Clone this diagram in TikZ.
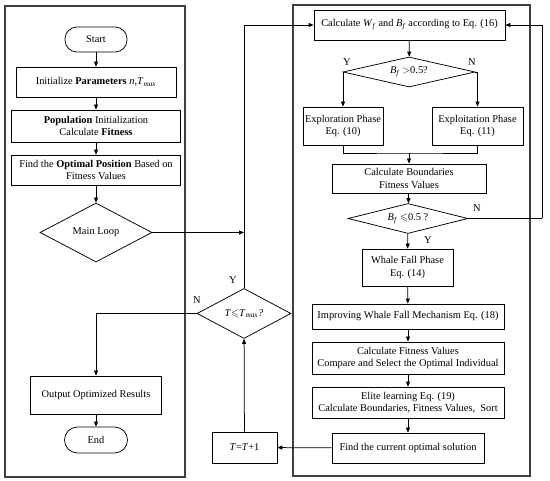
\documentclass[tikz,border=0pt]{standalone}
\usepackage{amssymb}
\usepackage{fontspec}
\setmainfont{Liberation Serif}
\usetikzlibrary{shapes.geometric,arrows.meta}
\begin{document}
\begin{tikzpicture}[x=1pt,y=-1pt,
  every node/.style={font=\fontsize{10.4}{12.2}\selectfont},
  box/.style={draw, line width=0.75pt, align=center, inner sep=0pt},
  term/.style={box, rounded corners=12pt},
  dia/.style={draw, line width=0.75pt, diamond, aspect=3, inner sep=0pt, align=center},
  panel/.style={draw=black!75, line width=1.3pt},
  arr/.style={line width=0.75pt, -{Triangle[length=5pt,width=4pt]}},
  ln/.style={line width=0.75pt},
  lbl/.style={inner sep=0pt}]
\useasboundingbox (0,0) rectangle (550,481);
\draw[panel] (5,6) rectangle (185,477);
\draw[panel] (293,5) rectangle (530,476);
% left column
\node[term, minimum width=62pt, minimum height=25pt] (start) at (96,39.5) {Start};
\node[box, minimum width=160pt, minimum height=30pt] (init) at (96,82) {Initialize \textbf{Parameters} \textit{n},\textit{T}\textsubscript{\textit{max}}};
\node[box, minimum width=169pt, minimum height=32pt] (pop) at (96,126) {\textbf{Population} Initialization\\Calculate \textbf{Fitness}};
\node[box, minimum width=169pt, minimum height=30pt] (opt) at (96,170) {Find the \textbf{Optimal Position} Based on\\Fitness Values};
\node[dia, minimum width=112pt, minimum height=59pt] (loop) at (96,232.5) {Main Loop};
\node[box, minimum width=131pt, minimum height=38pt] (out) at (96,395) {Output Optimized Results};
\node[term, minimum width=63pt, minimum height=26pt, rounded corners=13pt] (end) at (96,440) {End};
% middle
\node[dia, minimum width=94pt, minimum height=50pt] (tdia) at (244,313.5) {\textit{T}$\leqslant$\textit{T}\textsubscript{\textit{max}}\textit{?}};
\node[box, minimum width=65pt, minimum height=31pt] (tplus) at (244.5,447.5) {\textit{T}=\textit{T}+1};
% right column
\node[box, minimum width=191pt, minimum height=30pt] (calc) at (409.5,25) {Calculate \textit{W}\textsubscript{\textit{f}} and \textit{B}\textsubscript{\textit{f}} according to Eq. (16)};
\node[dia, minimum width=132pt, minimum height=30pt] (d1) at (409,72) {\textit{B}\textsubscript{\textit{f}} $>$0.5?};
\node[box, minimum width=80pt, minimum height=38pt] (explor) at (343,126) {Exploration Phase\\Eq. (10)};
\node[box, minimum width=91pt, minimum height=38pt] (exploit) at (477.5,126) {Exploitation Phase\\Eq. (11)};
\node[box, minimum width=154pt, minimum height=29pt] (calcb) at (409,178.5) {Calculate Boundaries\\Fitness Values};
\node[dia, minimum width=120pt, minimum height=30pt] (d2) at (408,218.5) {\textit{B}\textsubscript{\textit{f}} $\leqslant$0.5 ?};
\node[box, minimum width=91pt, minimum height=37pt] (whale) at (407.5,267.5) {Whale Fall Phase\\Eq. (14)};
\node[box, minimum width=192pt, minimum height=25pt] (impr) at (408,316.5) {Improving Whale Fall Mechanism Eq. (18)};
\node[box, minimum width=192pt, minimum height=32pt] (cfit) at (408,358) {Calculate Fitness Values\\Compare and Select the Optimal Individual};
\node[box, minimum width=192pt, minimum height=31pt] (elite) at (408,402.5) {Elite learning Eq. (19)\\Calculate Boundaries, Fitness Values,~ Sort};
\node[box, minimum width=152pt, minimum height=30pt] (cur) at (408,448) {Find the current optimal solution};
% labels
\node[lbl] (ly1) at (233,280) {Y};
\node[lbl] (ln1) at (197,300) {N};
\node[lbl] (ly2) at (347,62) {Y};
\node[lbl] (ln2) at (472,62) {N};
\node[lbl] (ln3) at (477,208) {N};
\node[lbl] (ly3) at (428,240) {Y};
% coordinates
\coordinate (m) at (409,153);
\coordinate (fb) at (542,218.5);
% connectors
\draw[arr] (start) -- (init);
\draw[arr] (init) -- (pop);
\draw[arr] (pop) -- (opt);
\draw[arr] (opt) -- (loop);
\draw[arr] (loop.east) -- (loop.east -| tdia.north);
\draw[arr] (tdia.north) |- (calc.west);
\draw[arr] (tdia.west) -| (out.north);
\draw[arr] (out) -- (end);
\draw[arr] (tplus) -- (tdia);
\draw[arr] (cur) -- (tplus);
\draw[arr] (calc) -- (d1);
\draw[arr] (d1.west) -| (explor.north);
\draw[arr] (d1.east) -| (exploit.north);
\draw[ln] (explor.south) |- (m) -| (exploit.south);
\draw[arr] (m) -- (calcb.north);
\draw[arr] (calcb) -- (d2);
\draw[ln] (d2.east) -- (fb);
\draw[arr] (fb) |- (calc.east);
\draw[arr] (d2) -- (whale);
\draw[arr] (whale) -- (impr);
\draw[arr] (impr) -- (cfit);
\draw[arr] (cfit) -- (elite);
\draw[arr] (elite) -- (cur);
\end{tikzpicture}
\end{document}
